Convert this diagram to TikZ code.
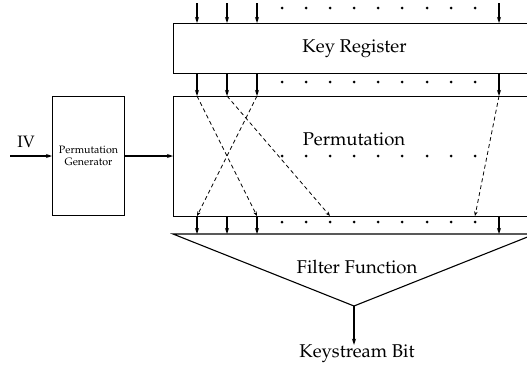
\documentclass[tikz,border=0pt]{standalone}
\usepackage[T1]{fontenc}
\usepackage{mathpazo}
\usetikzlibrary{arrows.meta}
\begin{document}
\begin{tikzpicture}[x=1pt,y=-1pt,
  box/.style={draw, line width=1.1pt, inner sep=0pt},
  arr/.style={-{Stealth[length=6pt,width=4pt]}, line width=1.1pt},
  darr/.style={dashed, dash pattern=on 4pt off 3pt, -{Stealth[length=4.5pt,width=3.5pt]}, line width=0.8pt},
  dot/.style={circle, fill, inner sep=0pt, minimum size=3pt},
  lbl/.style={font=\fontsize{18.5}{22}\selectfont, inner sep=0pt}]
\useasboundingbox (0,0) rectangle (527,367);
\clip (0,0) rectangle (527,367);
% boxes
\node[box, minimum width=362pt, minimum height=50pt, anchor=north west, lbl] (kr) at (173,23) {Key Register};
\node[box, minimum width=362pt, minimum height=120pt, anchor=north west] (perm) at (173,96) {};
\node[lbl] (permt) at (354,139) {Permutation};
\node[box, minimum width=72pt, minimum height=119pt, anchor=north west, align=center,
      font=\fontsize{10.7}{12.5}\selectfont] (pg) at (52,96) {Permutation\\Generator};
% IV
\coordinate (ivs) at (10,156);
\node[lbl, font=\fontsize{16.5}{19}\selectfont] (iv) at (26,142) {IV};
\draw[arr] (ivs) -- (pg.west |- ivs);
\draw[arr] (pg.east |- ivs) -- (perm.west |- ivs);
% triangle
\coordinate (fl) at (173,234);
\coordinate (fr) at (535,234);
\coordinate (fa) at (354,306);
\draw[line width=1.1pt] (fl) -- (fr) -- (fa) -- cycle;
\node[lbl] (ff) at (357,267) {Filter Function};
\node[lbl] (ks) at (357,354) {Keystream Bit};
\draw[arr] (fa) -- (ks.north -| fa);
% columns
\foreach \x [count=\i] in {197,227,257,499} {
  \coordinate (t\i) at (\x,3);
  \draw[arr] (t\i) -- (kr.north -| t\i);
  \draw[arr] (kr.south -| t\i) -- (perm.north -| t\i);
  \coordinate (b\i) at (\x,216);
  \draw[arr] (b\i) -- (fl -| b\i);
}
% dots
\foreach \x [count=\j] in {282,306,330,354,378,402,427,451,475} {
  \node[dot] (da\j) at (\x,8) {};
  \node[dot] (db\j) at (\x,82) {};
  \node[dot] (dc\j) at (\x,156) {};
  \node[dot] (dd\j) at (\x,222) {};
}
% dashed permutation
\coordinate (p1) at (197,96); \coordinate (q1) at (257,216);
\coordinate (p2) at (227,96); \coordinate (q2) at (330,216);
\coordinate (p3) at (257,96); \coordinate (q3) at (197,216);
\coordinate (p4) at (499,96); \coordinate (q4) at (475,216);
\foreach \i in {1,2,3,4} { \draw[darr] (p\i) -- (q\i); }
\end{tikzpicture}
\end{document}
